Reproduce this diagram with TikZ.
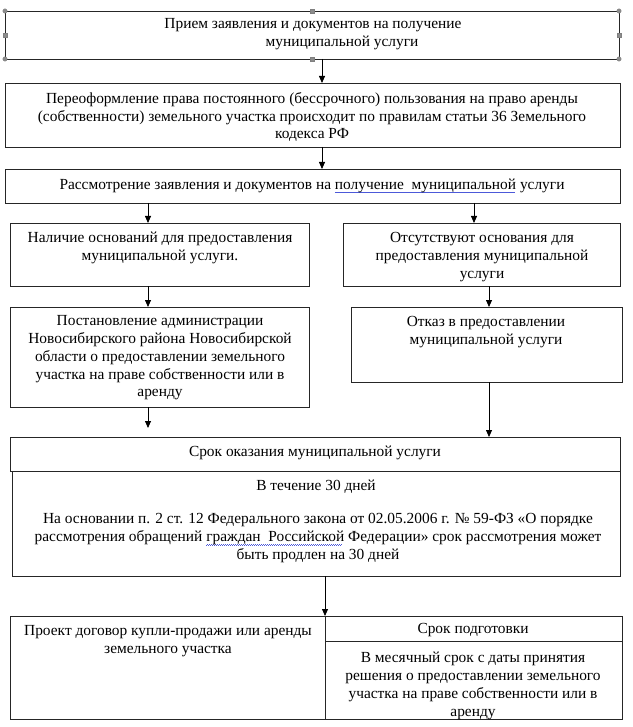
\documentclass[tikz,border=0pt]{standalone}
\usepackage{fontspec}
\setmainfont{Liberation Serif}
\usetikzlibrary{arrows.meta}
\definecolor{spell}{rgb}{0.3,0.35,0.85}
\definecolor{handle}{rgb}{0.55,0.55,0.55}
\newsavebox\spellbox
\newcommand\spellwave[1]{\sbox\spellbox{#1}\rlap{\raisebox{-3.8pt}{\hbox to \wd\spellbox{\color{spell}\leaders\hbox{\rule{1pt}{0.7pt}\raisebox{0.7pt}{\rule{1pt}{0.7pt}}}\hfill}}}\usebox\spellbox}
\tikzset{
  box/.style={draw=black!85, line width=0.8pt, anchor=north west, inner sep=0pt, outer sep=0pt},
  txt/.style={align=center, inner sep=0pt, font=\fontsize{15.4}{17.8}\selectfont},
  arr/.style={draw=black, line width=0.8pt, -{Triangle[length=7pt,width=6pt]}},
  hcirc/.style={circle, fill=handle, draw=black!50, line width=0.3pt, minimum size=4.5pt, inner sep=0pt},
  hsq/.style={rectangle, fill=handle, draw=black!50, line width=0.3pt, minimum size=4pt, inner sep=0pt}
}
\begin{document}
\begin{tikzpicture}[x=1pt,y=-1pt]
\useasboundingbox (0,0) rectangle (632,727);
% boxes
\node[box, minimum width=614pt, minimum height=48pt] (b1) at (5,11) {};
\node[box, minimum width=615pt, minimum height=64pt] (b2) at (5,83) {};
\node[box, minimum width=615pt, minimum height=34pt] (b3) at (5,169) {};
\node[box, minimum width=299pt, minimum height=63pt] (b4l) at (10,223) {};
\node[box, minimum width=277pt, minimum height=63pt] (b4r) at (343,223) {};
\node[box, minimum width=299pt, minimum height=100pt] (b5l) at (10,307) {};
\node[box, minimum width=271pt, minimum height=75pt] (b5r) at (351,307) {};
\node[box, minimum width=610pt, minimum height=34pt] (b6h) at (10,437) {};
\node[box, minimum width=608pt, minimum height=105pt] (b6b) at (12,471) {};
\node[box, minimum width=315pt, minimum height=103pt] (b7l) at (10,616) {};
\node[box, minimum width=297pt, minimum height=25pt] (b7rh) at (325,616) {};
\node[box, minimum width=297pt, minimum height=78pt] (b7rb) at (325,641) {};
% selection handles of the first box
\node[hcirc] (h1) at (b1.north west) {};
\node[hcirc] (h2) at (b1.north east) {};
\node[hcirc] (h3) at (b1.south west) {};
\node[hcirc] (h4) at (b1.south east) {};
\node[hsq] (h5) at (b1.north) {};
\node[hsq] (h6) at (b1.south) {};
\node[hsq] (h7) at (b1.west) {};
\node[hsq] (h8) at (b1.east) {};
% texts
\node[txt] (t1) at (313,34) {Прием заявления и документов на получение\\\hspace*{58pt}муниципальной услуги};
\node[txt] (t2) at (312,117) {Переоформление права постоянного (бессрочного) пользования на право аренды\\(собственности) земельного участка происходит по правилам статьи 36 Земельного\\кодекса РФ};
\node[txt] (t3) at (312,186) {Рассмотрение заявления и документов на \spellwave{получение\ \ муниципальной} услуги};
\node[txt] (t4l) at (160,248) {Наличие оснований для предоставления\\муниципальной услуги.};
\node[txt] (t4r) at (482,257) {Отсутствуют основания для\\предоставления муниципальной\\услуги};
\node[txt] (t5l) at (160,358) {Постановление администрации\\Новосибирского района Новосибирской\\области о предоставлении земельного\\участка на праве собственности или в\\аренду};
\node[txt] (t5r) at (486,332) {Отказ в предоставлении\\муниципальной услуги};
\node[txt] (t6h) at (315,453) {Срок оказания муниципальной услуги};
\node[txt] (t6a) at (316,487) {В течение 30 дней};
\node[txt] (t6b) at (318,538) {На основании п. 2 ст. 12 Федерального закона от 02.05.2006 г. № 59-ФЗ «О порядке\\рассмотрения обращений \spellwave{граждан\ \ Российской} Федерации» срок рассмотрения может\\быть продлен на 30 дней};
\node[txt] (t7l) at (168,641) {Проект договор купли-продажи или аренды\\земельного участка};
\node[txt] (t7rh) at (473,630) {Срок подготовки};
\node[txt] (t7rb) at (473,686) {В месячный срок с даты принятия\\решения о предоставлении земельного\\участка на праве собственности или в\\аренду};
% connector columns
\coordinate (colC) at (322,0);
\coordinate (colL) at (148,0);
\coordinate (colR1) at (474,0);
\coordinate (colR2) at (489,0);
\coordinate (endL) at (148,428);
% connectors
\draw[arr] (b1.south -| colC) -- (b2.north -| colC);
\draw[arr] (b2.south -| colC) -- (b3.north -| colC);
\draw[arr] (b3.south -| colL) -- (b4l.north -| colL);
\draw[arr] (b3.south -| colR1) -- (b4r.north -| colR1);
\draw[arr] (b4l.south -| colL) -- (b5l.north -| colL);
\draw[arr] (b4r.south -| colR2) -- (b5r.north -| colR2);
\draw[arr] (b5l.south -| colL) -- (endL);
\draw[arr] (b5r.south -| colR2) -- (b6h.north -| colR2);
\draw[arr] (b6b.south -| b7l.north east) -- (b7l.north east);
\end{tikzpicture}
\end{document}
